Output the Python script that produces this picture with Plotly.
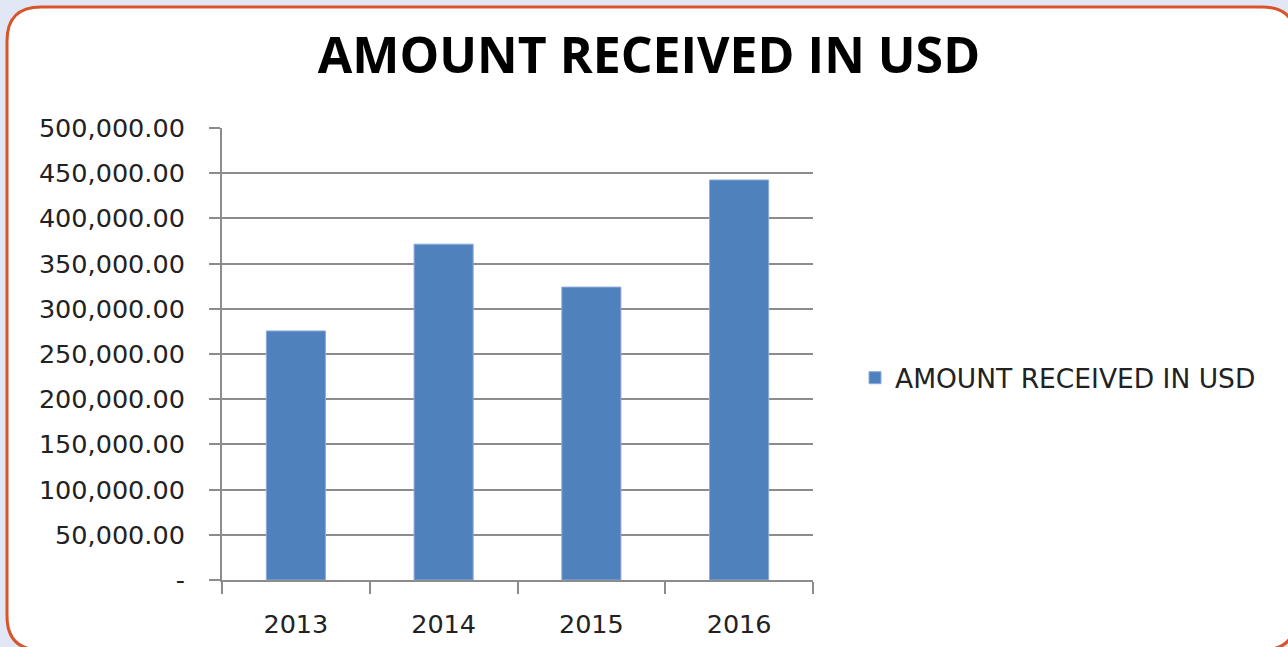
import plotly.graph_objects as go

# chart data
years = ['2013', '2014', '2015', '2016']
amounts = [275500, 371500, 324000, 442500]
series_name = 'AMOUNT RECEIVED IN USD'
ytick_vals = [0, 50000, 100000, 150000, 200000, 250000, 300000, 350000, 400000, 450000, 500000]
ytick_text = ['-', '50,000.00', '100,000.00', '150,000.00', '200,000.00', '250,000.00',
              '300,000.00', '350,000.00', '400,000.00', '450,000.00', '500,000.00']

W, H = 1288, 647
ML, MR, MT, MB = 222, 475, 128, 67
PW, PH = W - ML - MR, H - MT - MB


def px(x):
    return (x - ML) / PW


def py(y):
    return (H - MB - y) / PH


def frame_path(x0, y0, x1, y1, r):
    # rounded rectangle in paper coords
    pts = [
        ('M', px(x0 + r), py(y0)),
        ('L', px(x1 - r), py(y0)),
        ('Q', px(x1), py(y0), px(x1), py(y0 + r)),
        ('L', px(x1), py(y1 - r)),
        ('Q', px(x1), py(y1), px(x1 - r), py(y1)),
        ('L', px(x0 + r), py(y1)),
        ('Q', px(x0), py(y1), px(x0), py(y1 - r)),
        ('L', px(x0), py(y0 + r)),
        ('Q', px(x0), py(y0), px(x0 + r), py(y0)),
    ]
    out = ''
    for p in pts:
        out += p[0] + ' ' + ' '.join(f'{v:.5f}' for v in p[1:]) + ' '
    return out + 'Z'


fig = go.Figure()
fig.add_trace(go.Bar(x=years, y=amounts, name=series_name,
                     marker=dict(color='#4F81BD', line=dict(color='#8EAADB', width=1)),
                     width=0.4, showlegend=True))

fig.add_shape(type='path', xref='paper', yref='paper', layer='below',
              path=frame_path(7, 7, 1296, 650, 34),
              fillcolor='white', line=dict(color='#D9542B', width=3))

fig.update_layout(
    width=W, height=H,
    margin=dict(l=ML, r=MR, t=MT, b=MB),
    paper_bgcolor='#E1E7F4',
    plot_bgcolor='rgba(0,0,0,0)',
    font=dict(family='DejaVu Sans', color='#222222'),
    title=dict(text='<b>AMOUNT RECEIVED IN USD</b>', x=649 / W, xref='container',
               y=1 - 55 / H, yref='container', xanchor='center', yanchor='middle',
               font=dict(family='Open Sans', size=50, color='black')),
    showlegend=True,
    legend=dict(x=px(855), y=py(378), xanchor='left', yanchor='middle',
                font=dict(size=26.5, color='#222222'), bgcolor='rgba(0,0,0,0)'),
    bargap=0.6,
)

fig.update_xaxes(showline=True, linecolor='#8c8c8c', linewidth=2,
                 ticks='outside', tickson='boundaries', ticklen=12,
                 tickcolor='#8c8c8c', tickwidth=2, automargin=False,
                 tickfont=dict(size=25.5, color='#222222'), ticklabelstandoff=20,
                 showgrid=False)
fig.update_yaxes(range=[0, 500000], tickvals=ytick_vals, ticktext=ytick_text,
                 showline=True, linecolor='#8c8c8c', linewidth=2,
                 ticks='outside', ticklen=11, tickcolor='#8c8c8c', tickwidth=2,
                 showgrid=True, gridcolor='#8c8c8c', gridwidth=2, automargin=False,
                 zeroline=False, tickfont=dict(size=25.5, color='#222222'),
                 ticklabelstandoff=19)

fig.write_html('out.html', config={'displayModeBar': False},
               post_script="document.body.style.margin='0';")
